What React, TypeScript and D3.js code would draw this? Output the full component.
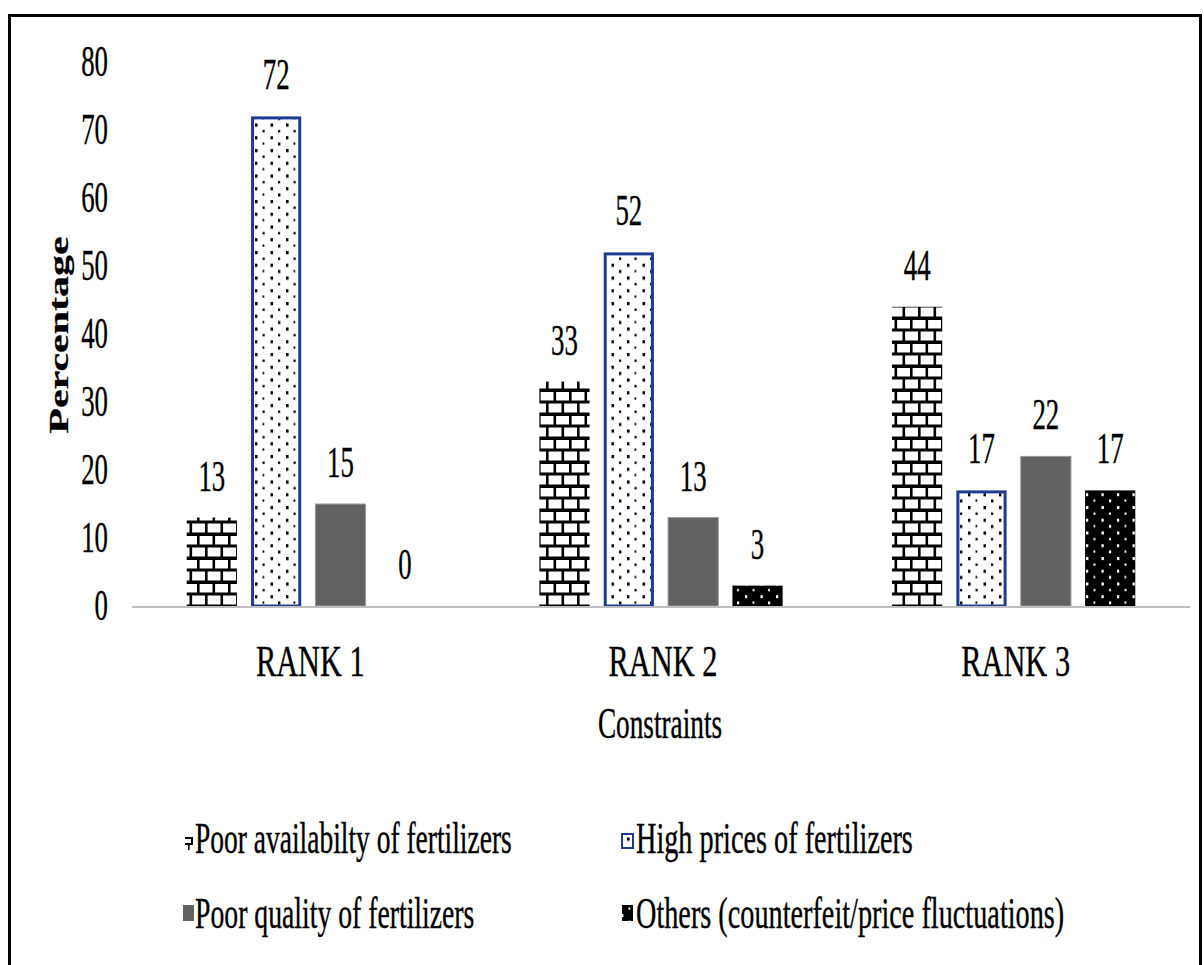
import React from "react";
import * as d3 from "d3";

// Chart data
const categories = ["RANK 1", "RANK 2", "RANK 3"];
const seriesKeys = ["availability", "prices", "quality", "others"];
const seriesLabels = [
  "Poor availabilty of fertilizers",
  "High prices of fertilizers",
  "Poor quality of fertilizers",
  "Others (counterfeit/price fluctuations)",
];
const poorAvailability = [13, 33, 44];
const highPrices = [72, 52, 17];
const poorQuality = [15, 13, 22];
const others = [0, 3, 17];
const yTicks = [0, 10, 20, 30, 40, 50, 60, 70, 80];
const xTitle = "Constraints";
const yTitle = "Percentage";

const W = 1204;
const H = 965;
const FONT = "'Liberation Serif', 'Times New Roman', serif";

const seriesValues = [poorAvailability, highPrices, poorQuality, others];

type TProps = {
  x: number;
  y: number;
  children: React.ReactNode;
  anchor?: "start" | "middle" | "end";
  size?: number;
  sx?: number;
  weight?: string;
  rotate?: number;
};

// Condensed serif text: glyphs are narrowed horizontally by `sx`
function T({ x, y, children, anchor = "middle", size = 44, sx = 0.61, weight = "normal", rotate = 0 }: TProps) {
  return (
    <g transform={`translate(${x},${y}) scale(${sx},1)${rotate ? ` rotate(${rotate})` : ""}`}>
      <text textAnchor={anchor} fontSize={size} fontWeight={weight} fontFamily={FONT} fill="#000"
        stroke="#000" strokeWidth={0.4}>
        {children}
      </text>
    </g>
  );
}

export default function App() {
  const y = d3.scaleLinear().domain([0, 80]).range([606, 62]);
  const x0 = d3.scaleBand<string>().domain(categories).range([132, 1190]);
  const x1 = d3
    .scaleBand<string>()
    .domain(seriesKeys)
    .range([0, x0.bandwidth()])
    .paddingInner(0.22)
    .paddingOuter(0.85);
  const bw = x1.bandwidth();

  const fills: Record<string, string> = {
    availability: "url(#brick)",
    prices: "url(#dotsDark)",
    quality: "#626262",
    others: "url(#dotsLight)",
  };

  const bars: React.ReactNode[] = [];
  const labels: React.ReactNode[] = [];
  categories.forEach((cat, ci) => {
    seriesKeys.forEach((key, si) => {
      const v = seriesValues[si][ci];
      const bx = (x0(cat) ?? 0) + (x1(key) ?? 0);
      const top = y(v);
      const h = y(0) - top;
      if (h > 0) {
        if (key === "prices") {
          bars.push(
            <rect key={`${cat}-${key}`} x={bx + 1.5} y={top + 1.5} width={bw - 3} height={h - 1.5}
              fill={fills[key]} stroke="#1f3a93" strokeWidth={3} />
          );
        } else if (key === "quality") {
          bars.push(
            <rect key={`${cat}-${key}`} x={bx} y={top} width={bw} height={h}
              fill={fills[key]} stroke="#9a9a9a" strokeWidth={1} />
          );
        } else {
          bars.push(
            <rect key={`${cat}-${key}`} x={bx} y={top} width={bw} height={h} fill={fills[key]} />
          );
        }
      }
      labels.push(
        <T key={`lab-${cat}-${key}`} x={bx + bw / 2} y={top - 27}>{v}</T>
      );
    });
  });

  const legendItems = [
    { key: "availability", mx: 183, my: 834, tx: 195, ty: 853, sx: 0.625 },
    { key: "prices", mx: 621, my: 833, tx: 636, ty: 853, sx: 0.642 },
    { key: "quality", mx: 183, my: 905, tx: 195, ty: 928, sx: 0.63 },
    { key: "others", mx: 622, my: 905, tx: 636, ty: 928, sx: 0.642 },
  ];

  return (
    <svg width={W} height={H} style={{ position: "absolute", left: 0, top: 0, background: "#fff" }}>
      <defs>
        <pattern id="brick" patternUnits="userSpaceOnUse" width={31} height={24} x={188} y={606}>
          <rect width={31} height={24} fill="#fff" />
          <rect x={0} y={-1.5} width={31} height={3.5} fill="#000" />
          <rect x={0} y={10.5} width={31} height={3} fill="#000" />
          <rect x={0} y={22.5} width={31} height={3.5} fill="#000" />
          <rect x={9} y={0} width={2.6} height={12} fill="#000" />
          <rect x={24.5} y={0} width={2.6} height={12} fill="#000" />
          <rect x={1.5} y={12} width={2.6} height={12} fill="#000" />
          <rect x={17} y={12} width={2.6} height={12} fill="#000" />
        </pattern>
        <pattern id="dotsDark" patternUnits="userSpaceOnUse" width={31} height={25.5} x={252} y={606}>
          <rect width={31} height={25.5} fill="#fff" />
          <rect x={3} y={2} width={2.6} height={3.2} fill="#000" />
          <rect x={18.5} y={2} width={2.6} height={3.2} fill="#000" />
          <rect x={10.5} y={8.5} width={2.2} height={2.4} fill="#000" />
          <rect x={26} y={8.5} width={2.2} height={2.4} fill="#000" />
          <rect x={3} y={14.7} width={2.4} height={3.2} fill="#000" />
          <rect x={18.5} y={14.7} width={2.4} height={3.2} fill="#000" />
          <rect x={10.5} y={21} width={1.8} height={2.2} fill="#000" />
          <rect x={26} y={21} width={2.4} height={3} fill="#000" />
        </pattern>
        <pattern id="dotsLight" patternUnits="userSpaceOnUse" width={31} height={25.5} x={1083} y={606}>
          <rect width={31} height={25.5} fill="#000" />
          <rect x={3} y={2} width={2.4} height={3} fill="#fff" />
          <rect x={18.5} y={2} width={2.4} height={3} fill="#fff" />
          <rect x={10.5} y={8.5} width={2} height={2.2} fill="#fff" />
          <rect x={26} y={8.5} width={2} height={2.2} fill="#fff" />
          <rect x={3} y={14.7} width={2.2} height={3} fill="#fff" />
          <rect x={18.5} y={14.7} width={2.2} height={3} fill="#fff" />
          <rect x={10.5} y={21} width={1.8} height={2.2} fill="#fff" />
          <rect x={26} y={21} width={2.2} height={2.8} fill="#fff" />
        </pattern>
      </defs>

      {/* outer frame */}
      <rect x={9.5} y={15.5} width={1191} height={1000} fill="none" stroke="#000" strokeWidth={3} />

      {/* y tick labels */}
      {yTicks.map((t) => (
        <T key={`yt-${t}`} x={108} y={y(t) + 14} anchor="end">{t}</T>
      ))}

      {/* y axis title */}
      <T x={68} y={335} rotate={-90} weight="bold" size={42} sx={0.63}>{yTitle}</T>

      {/* bars */}
      {bars}

      {/* category baseline */}
      <line x1={132} x2={1190} y1={y(0) + 1} y2={y(0) + 1} stroke="#bfbfbf" strokeWidth={2} />

      {/* value labels */}
      {labels}

      {/* category labels */}
      {categories.map((c) => (
        <T key={`cat-${c}`} x={(x0(c) ?? 0) + x0.bandwidth() / 2 + 2} y={676} sx={0.69}>{c}</T>
      ))}

      {/* x axis title */}
      <T x={660} y={738} sx={0.62}>{xTitle}</T>

      {/* legend */}
      {legendItems.map((it, i) => (
        <g key={`leg-${it.key}`}>
          {it.key === "prices" ? (
            <rect x={it.mx + 1} y={it.my + 1} width={11} height={14} fill="url(#dotsDark)" stroke="#1f3a93" strokeWidth={2} />
          ) : it.key === "availability" ? (
            <g>
              <rect x={it.mx + 2} y={it.my + 3} width={8} height={2} fill="#000" />
              <rect x={it.mx + 2} y={it.my + 9} width={8} height={2} fill="#000" />
              <rect x={it.mx + 8} y={it.my + 3} width={2} height={8} fill="#000" />
              <rect x={it.mx + 5} y={it.my + 11} width={1.6} height={5} fill="#000" />
            </g>
          ) : (
            <rect x={it.mx} y={it.my} width={11} height={16} fill={fills[it.key]} />
          )}
          <T x={it.tx} y={it.ty} anchor="start" sx={it.sx}>{seriesLabels[i]}</T>
        </g>
      ))}
    </svg>
  );
}
